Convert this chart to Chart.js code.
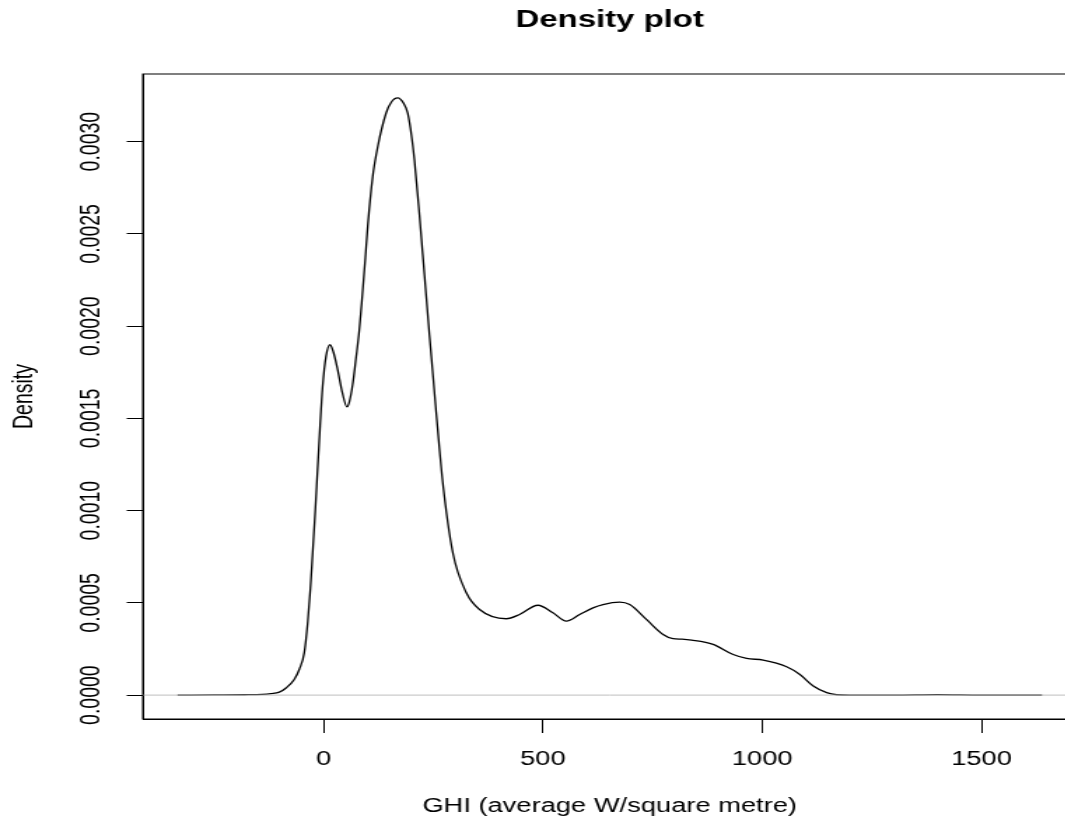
<!DOCTYPE html>
<html>
<head>
<meta charset="utf-8">
<title>Density plot</title>
<script src="https://cdn.jsdelivr.net/npm/chart.js@4.4.1/dist/chart.umd.min.js"></script>
<style>
  html, body { margin: 0; padding: 0; background: #fff; overflow: hidden; }
  /* the source picture is an R plot stretched sideways, so stretch the canvas the same way */
  #wrap { width: 771px; height: 827px; transform: scaleX(1.4); transform-origin: 0 0; }
</style>
</head>
<body>
<div id="wrap"><canvas id="densityChart" width="771" height="827"></canvas></div>
<script>
// GHI values (x) and the kernel density (y)
const ghiValues = [
  -333, -250, -180, -140, -120, -101, -85, -67, -55.5, -44, -36, -30, -25, -19,
  -14, -8, -2.3, 5.5, 14.6, 22.1, 32, 42.7, 53.4, 58.7, 66.2, 74, 81.5, 88.4,
  95.2, 100.5, 111.9, 123.3, 142.5, 154.6, 169, 182, 191.8, 200.2, 207.1, 218.5,
  229.9, 241.3, 256.6, 271.7, 294.5, 325.1, 355.5, 416.4, 446.8, 488.6, 522.8,
  553.4, 583.8, 614.2, 637, 675.1, 697.9, 736, 773.9, 796.8, 817, 838.8, 888,
  933.8, 964.4, 1002.3, 1055.7, 1086, 1116.4, 1147, 1170, 1200, 1300, 1400,
  1500, 1638
];
const densityValues = [
  0, 0.000001, 0.000002, 0.000004, 0.000008, 0.000016, 0.00004, 0.000085,
  0.000139, 0.00023, 0.0004, 0.00058, 0.00077, 0.001, 0.00121, 0.00146,
  0.00167, 0.001836, 0.001899, 0.001861, 0.001764, 0.001639, 0.001562, 0.00159,
  0.001682, 0.001829, 0.00198, 0.00217, 0.00237, 0.002538, 0.002809, 0.002971,
  0.003155, 0.003215, 0.003237, 0.003209, 0.003154, 0.003036, 0.002901,
  0.002603, 0.002278, 0.001953, 0.001536, 0.001152, 0.000773, 0.000556,
  0.000464, 0.000414, 0.000437, 0.000487, 0.000446, 0.000401, 0.000437,
  0.000473, 0.000491, 0.000504, 0.000491, 0.00041, 0.000329, 0.000306,
  0.000303, 0.000298, 0.000275, 0.00022, 0.000199, 0.00019, 0.000154, 0.000112,
  0.000049, 0.000013, 0.000002, 0, 0, 0.000003, 0, 0
];
const xTicks = [0, 500, 1000, 1500];
const yTicks = [0, 0.0005, 0.001, 0.0015, 0.002, 0.0025, 0.003];

// axis limits as R pads them (4% either side)
const xMin = -412.2, xMax = 1716.8;
const yMin = -0.0001295, yMax = 0.0033665;

const FONT = '"Liberation Sans", Arial, Helvetica, sans-serif';

const curve = ghiValues.map((x, i) => ({ x: x, y: densityValues[i] }));
const zeroLine = [{ x: xMin, y: 0 }, { x: xMax, y: 0 }];

// box round the plot region, like R's bty="o"
const boxPlugin = {
  id: 'plotBox',
  afterDraw(chart) {
    const { ctx, chartArea: a } = chart;
    ctx.save();
    ctx.strokeStyle = '#000';
    ctx.lineWidth = 1;
    ctx.strokeRect(a.left, a.top, a.right - a.left, a.bottom - a.top);
    ctx.restore();
  }
};

const ctx = document.getElementById('densityChart').getContext('2d');
new Chart(ctx, {
  type: 'line',
  data: {
    datasets: [
      {
        // grey zero line is drawn over the curve in R, dataset 0 ends up on top
        data: zeroLine,
        borderColor: '#bebebe',
        borderWidth: 1,
        pointRadius: 0,
        fill: false,
        tension: 0,
      },
      {
        data: curve,
        borderColor: '#000',
        borderWidth: 1.3,
        pointRadius: 0,
        fill: false,
        cubicInterpolationMode: 'monotone',
      },
    ],
  },
  options: {
    responsive: false,
    animation: false,
    devicePixelRatio: 1,
    layout: { padding: { left: 0, right: 2, top: 0, bottom: 0 } },
    plugins: {
      legend: { display: false },
      tooltip: { enabled: false },
      title: {
        display: true,
        text: 'Density plot',
        fullSize: false,
        color: '#000',
        font: { family: FONT, size: 23.5, weight: 'bold', lineHeight: 1.2 },
        padding: { top: 6.9, bottom: 38.9 },
      },
    },
    scales: {
      x: {
        type: 'linear',
        min: xMin,
        max: xMax,
        afterBuildTicks: (s) => { s.ticks = xTicks.map((v) => ({ value: v })); },
        afterFit: (s) => { s.height = 108; },
        grid: { drawOnChartArea: false, drawTicks: true, tickLength: 14, tickColor: '#000', tickWidth: 1 },
        border: { display: true, color: '#000', width: 1 },
        ticks: {
          color: '#000',
          font: { family: FONT, size: 19.5 },
          padding: 15.3,
          maxRotation: 0,
          autoSkip: false,
          callback: (v) => String(v),
        },
        title: {
          display: true,
          text: 'GHI (average W/square metre)',
          color: '#000',
          font: { family: FONT, size: 19.5, lineHeight: 1.2 },
          padding: { top: 0, bottom: 8.3 },
        },
      },
      y: {
        type: 'linear',
        min: yMin,
        max: yMax,
        afterBuildTicks: (s) => { s.ticks = yTicks.map((v) => ({ value: v })); },
        afterFit: (s) => { s.width = 102; },
        grid: { drawOnChartArea: false, drawTicks: true, tickLength: 11.5, tickColor: '#000', tickWidth: 1 },
        border: { display: true, color: '#000', width: 1 },
        ticks: {
          color: '#000',
          font: { family: FONT, size: 19.5 },
          minRotation: 90,
          maxRotation: 90,
          crossAlign: 'center',
          padding: -5.4,
          autoSkip: false,
          callback: (v) => v.toFixed(4),
        },
        title: {
          display: true,
          text: 'Density',
          color: '#000',
          font: { family: FONT, size: 19.5, lineHeight: 1.2 },
          padding: { top: 6.2, bottom: 0 },
        },
      },
    },
  },
  plugins: [boxPlugin],
});
</script>
</body>
</html>
